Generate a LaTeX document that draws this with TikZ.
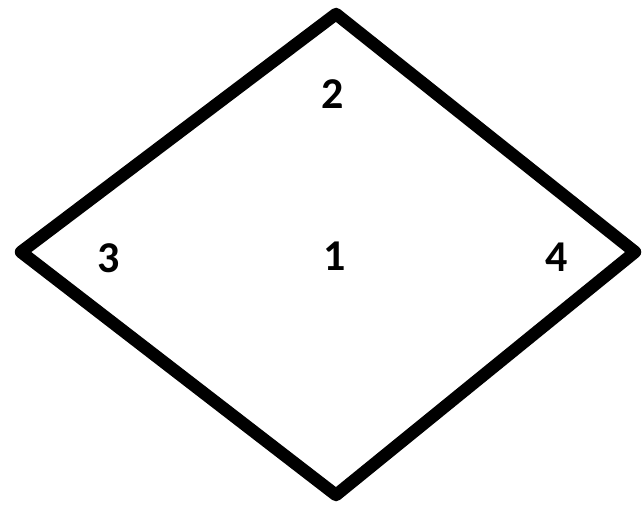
\documentclass[tikz,border=0pt]{standalone}
\usepackage{fontspec}
\setmainfont{Carlito}
\usetikzlibrary{positioning}
\tikzset{
  edge/.style={draw=black, line width=12.5pt, line join=round},
  lbl/.style={font=\bfseries\fontsize{44}{44}\selectfont, text=black, inner sep=0pt},
}
\begin{document}
\begin{tikzpicture}[x=1pt, y=-1pt]
\useasboundingbox (0,0) rectangle (644,506);
% corners of the rhombus
\coordinate (top) at (336,14);
\coordinate (right) at (635,252);
\coordinate (bottom) at (336,495);
\coordinate (left) at (21,252);
\draw[edge] (top) -- (right) -- (bottom) -- (left) -- cycle;
% labels
\node[lbl] (n1) at (335,256) {1};
\node[lbl] (n2) at (333,94) {2};
\node[lbl] (n3) at (109,258) {3};
\node[lbl] (n4) at (557,257) {4};
\end{tikzpicture}
\end{document}
